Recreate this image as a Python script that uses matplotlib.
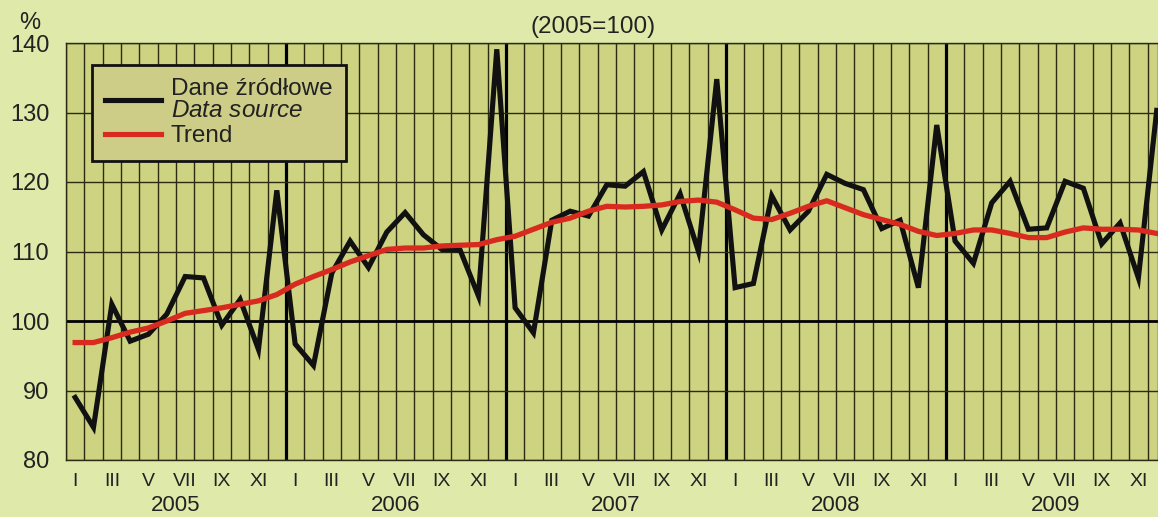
import numpy as np
import matplotlib
matplotlib.use("Agg")
import matplotlib.pyplot as plt
from matplotlib.lines import Line2D

plt.rcParams['font.family'] = ['Liberation Sans', 'DejaVu Sans']
plt.rcParams['mathtext.fontset'] = 'custom'
plt.rcParams['mathtext.rm'] = 'Liberation Sans'
plt.rcParams['mathtext.it'] = 'Liberation Sans:italic'

# Monthly index, 2005 = 100
years = ['2005', '2006', '2007', '2008', '2009']
month_labels = ['I', 'III', 'V', 'VII', 'IX', 'XI']

source_2005 = [89.0, 84.7, 102.4, 97.1, 98.1, 101.0, 106.4, 106.2, 99.4, 103.1, 95.9, 118.8]
source_2006 = [96.7, 93.6, 106.9, 111.5, 107.7, 112.8, 115.6, 112.4, 110.3, 110.2, 103.6, 139.1]
source_2007 = [101.9, 98.3, 114.5, 115.8, 115.1, 119.6, 119.4, 121.5, 113.1, 118.3, 110.0, 134.8]
source_2008 = [104.8, 105.4, 118.0, 113.1, 115.8, 121.1, 119.8, 118.9, 113.3, 114.5, 104.8, 128.2]
source_2009 = [111.5, 108.3, 117.0, 120.1, 113.2, 113.4, 120.1, 119.1, 111.1, 114.1, 106.2, 130.3]

trend_2005 = [96.9, 96.9, 97.6, 98.4, 99.0, 100.0, 101.1, 101.5, 101.9, 102.4, 102.9, 103.8]
trend_2006 = [105.3, 106.4, 107.4, 108.5, 109.4, 110.3, 110.5, 110.5, 110.8, 110.9, 111.0, 111.7]
trend_2007 = [112.2, 113.2, 114.2, 114.8, 115.8, 116.5, 116.4, 116.5, 116.7, 117.2, 117.4, 117.1]
trend_2008 = [116.0, 114.8, 114.6, 115.5, 116.5, 117.3, 116.3, 115.3, 114.6, 113.9, 112.9, 112.3]
trend_2009 = [112.6, 113.1, 113.1, 112.6, 112.0, 112.0, 112.8, 113.4, 113.2, 113.2, 113.1, 112.6]

source = source_2005 + source_2006 + source_2007 + source_2008 + source_2009
trend = trend_2005 + trend_2006 + trend_2007 + trend_2008 + trend_2009
y_ticks = [80, 90, 100, 110, 120, 130, 140]

outer_bg = '#dee9aa'
plot_bg = '#cdd381'
legend_bg = '#cdcd88'
grid_col = '#2b2b14'
text_col = '#222222'

fig = plt.figure(figsize=(11.58, 5.17), dpi=100, facecolor=outer_bg)
ax = fig.add_axes([66 / 1158, 1 - 460 / 517, 1 - 66 / 1158, 417 / 517])
ax.set_facecolor(plot_bg)

n = len(source)
x = np.arange(n)

# month separators and year separators
for b in np.arange(-0.5, n, 1.0):
    if (b + 0.5) % 12 == 0 and b > 0:
        ax.axvline(b, color='black', lw=2.3, zorder=1)
    else:
        ax.axvline(b, color=grid_col, lw=1.0, zorder=1)
for yv in y_ticks:
    ax.axhline(yv, color='black' if yv == 100 else grid_col,
               lw=2.0 if yv == 100 else 1.0, zorder=1)

ax.plot(x, source, color='#111111', lw=3.7, zorder=3, solid_joinstyle='miter')
ax.plot(x, trend, color='#d92a1f', lw=3.8, zorder=4)

ax.set_xlim(-0.5, 59.07)
ax.set_ylim(80, 140)
ax.set_yticks(y_ticks)
ax.tick_params(axis='y', length=0, pad=12, labelsize=17, colors=text_col)

ax.set_xticks(x[::2])
ax.set_xticklabels(month_labels * len(years))
ax.tick_params(axis='x', which='major', length=0, pad=9, labelsize=14, colors=text_col)
ax.set_xticks([12 * k + 5.5 for k in range(len(years))], minor=True)
ax.set_xticklabels(years, minor=True)
ax.tick_params(axis='x', which='minor', length=0, pad=25, labelsize=16, colors=text_col)

for s in ax.spines.values():
    s.set_color(grid_col)
    s.set_linewidth(1.0)

handles = [Line2D([], [], color='#111111', lw=3.7),
           Line2D([], [], color='#d92a1f', lw=3.7)]
leg = ax.legend(handles, ['Dane źródłowe\n$\\it{Data\\ source}$', 'Trend'],
                loc='upper left', bbox_to_anchor=(0.0238, 0.947),
                borderaxespad=0, fontsize=17.5, frameon=True, fancybox=False,
                facecolor=legend_bg, edgecolor='#111111', framealpha=1,
                handlelength=2.3, handletextpad=0.4, borderpad=0.55,
                labelspacing=0.15)
leg.get_frame().set_linewidth(2.0)
leg.set_zorder(5)
for t in leg.get_texts():
    t.set_color(text_col)
leg.get_texts()[0].set_linespacing(0.95)

fig.text(30 / 1158, 1 - 23 / 517, '%', ha='center', va='center', fontsize=17, color=text_col)
fig.text(593 / 1158, 1 - 27 / 517, '(2005=100)', ha='center', va='center', fontsize=17.5, color=text_col)

fig.savefig('out.png', dpi=100, facecolor=outer_bg)
